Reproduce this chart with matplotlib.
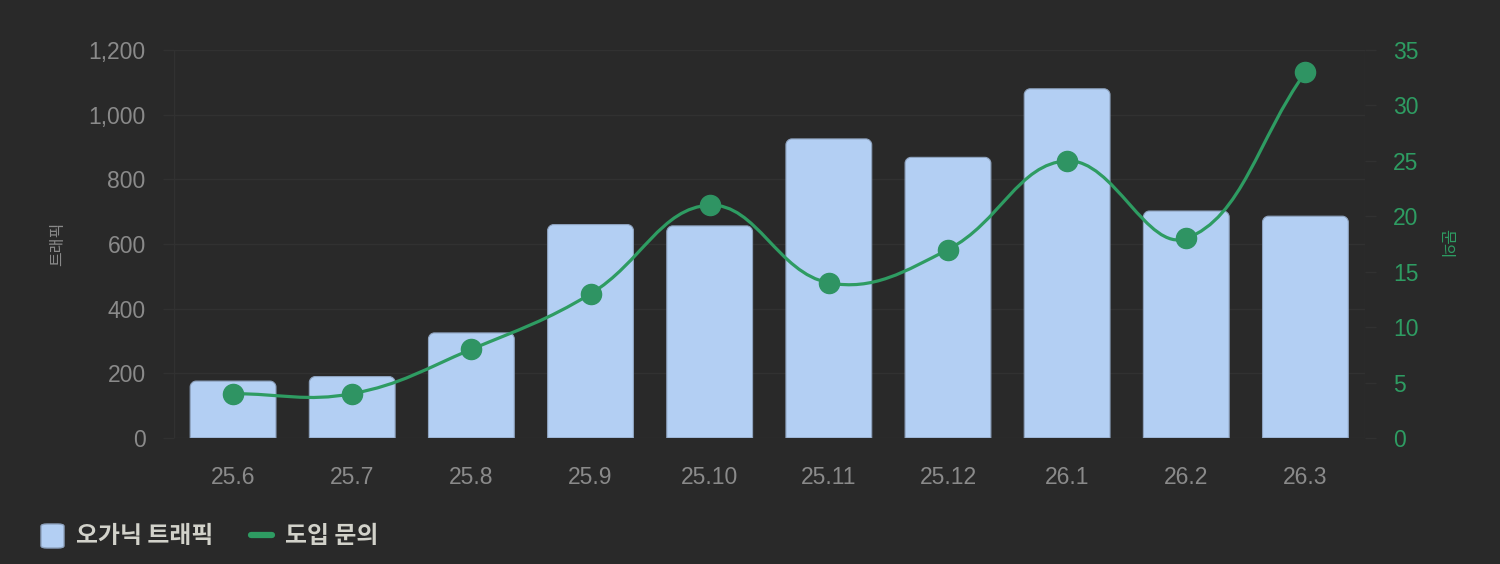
import matplotlib
matplotlib.use("Agg")
import matplotlib.pyplot as plt
from matplotlib.path import Path
from matplotlib.patches import PathPatch, FancyBboxPatch
from matplotlib.lines import Line2D
import numpy as np

months = ["25.6", "25.7", "25.8", "25.9", "25.10", "25.11", "25.12", "26.1", "26.2", "26.3"]
traffic = [176, 190, 325, 660, 656, 925, 868, 1080, 702, 686]
inquiries = [4, 4, 8, 13, 21, 14, 17, 25, 18, 33]
left_ticks = [0, 200, 400, 600, 800, 1000, 1200]
right_ticks = [0, 5, 10, 15, 20, 25, 30, 35]
bar_label = "오가닉 트래픽"
line_label = "도입 문의"
left_title = "트래픽"
right_title = "문의"

BG = "#292929"
GRID = "#313131"
BAR = "#b3cff3"
BAR_EDGE = "#8ea3bf"
GREEN = "#2e9c62"
MARK = "#2f9463"
GRAY = "#8a8a8a"
LEG_TXT = "#d2d2ca"

KR = ["Noto Sans CJK KR", "DejaVu Sans"]
NUM = ["Liberation Sans", "DejaVu Sans"]

W, H = 1500, 564
fig = plt.figure(figsize=(W / 100, H / 100), dpi=100, facecolor=BG)
x0, x1 = 173.5, 1365.0
ytop, ybot = 50.0, 438.0
ax = fig.add_axes([x0 / W, (H - ybot) / H, (x1 - x0) / W, (ybot - ytop) / H])
ax.set_facecolor(BG)
ax2 = ax.twinx()
ax2.patch.set_visible(False)

n = len(months)
xs = np.arange(n)
ax.set_xlim(-0.5, n - 0.5)
ax.set_ylim(0, 1200)
ax2.set_ylim(0, 35)

for a in (ax, ax2):
    for s in a.spines.values():
        s.set_visible(False)

# grid lines at left ticks
ax.set_yticks(left_ticks)
ax.set_yticklabels([f"{v:,}" for v in left_ticks])
ax.yaxis.grid(True, color=GRID, linewidth=1)
ax.set_axisbelow(True)
ax.tick_params(axis="y", colors=GRID, length=8, width=1, pad=12, labelcolor=GRAY, labelsize=16.5)
for t in ax.get_yticklabels():
    t.set_fontfamily(NUM)
ax2.set_yticks(right_ticks)
ax2.tick_params(axis="y", colors=GRID, length=8, width=1, pad=12, labelcolor=GREEN, labelsize=16.5)
for t in ax2.get_yticklabels():
    t.set_fontfamily(NUM)
ax.set_xticks(xs)
ax.set_xticklabels(months)
ax.tick_params(axis="x", length=0, pad=20, labelcolor=GRAY, labelsize=16.5)
for t in ax.get_xticklabels():
    t.set_fontfamily(NUM)
ax.axvline(-0.5, color=GRID, linewidth=1)
ax.axvline(n - 0.5, color=GRID, linewidth=1)

ax.set_ylabel(left_title, color=GRAY, fontsize=11.5, family=KR, labelpad=16)
ax2.set_ylabel(right_title, color=GREEN, fontsize=11.5, family=KR, rotation=270, labelpad=26)

# bars with rounded top corners
bars = ax.bar(xs, traffic, width=0.72, color=BAR)
r = 6.0
tr = ax.transData
inv = tr.inverted()
for b in bars:
    bx, by = b.get_x(), b.get_y()
    bw, bh = b.get_width(), b.get_height()
    (px0, py0) = tr.transform((bx, by))
    (px1, py1) = tr.transform((bx + bw, by + bh))
    k = 0.5523 * r
    verts = [
        (px0, py0), (px0, py1 - r),
        (px0, py1 - r + k), (px0 + r - k, py1), (px0 + r, py1),
        (px1 - r, py1),
        (px1 - r + k, py1), (px1, py1 - r + k), (px1, py1 - r),
        (px1, py0), (px0, py0),
    ]
    codes = [Path.MOVETO, Path.LINETO,
             Path.CURVE4, Path.CURVE4, Path.CURVE4,
             Path.LINETO,
             Path.CURVE4, Path.CURVE4, Path.CURVE4,
             Path.LINETO, Path.CLOSEPOLY]
    dverts = inv.transform(verts)
    ax.add_patch(PathPatch(Path(dverts, codes), facecolor=BAR, edgecolor=BAR_EDGE,
                           linewidth=0.8, zorder=2))
    b.set_visible(False)

# smooth line (Chart.js style spline, tension 0.4)
tr2 = ax2.transData
pts = tr2.transform(np.column_stack([xs, inquiries]))
tension = 0.4
cp_prev = pts.copy()
cp_next = pts.copy()
for i in range(n):
    p = pts[i - 1] if i > 0 else pts[i]
    c = pts[i]
    q = pts[i + 1] if i < n - 1 else pts[i]
    d01 = np.hypot(*(c - p))
    d12 = np.hypot(*(q - c))
    tot = d01 + d12
    s01 = d01 / tot if tot else 0
    s12 = d12 / tot if tot else 0
    cp_prev[i] = c - tension * s01 * (q - p)
    cp_next[i] = c + tension * s12 * (q - p)
# cap within chart area
ymin_px, ymax_px = tr2.transform((0, 0))[1], tr2.transform((0, 35))[1]
cp_prev[:, 1] = np.clip(cp_prev[:, 1], ymin_px, ymax_px)
cp_next[:, 1] = np.clip(cp_next[:, 1], ymin_px, ymax_px)
verts = [pts[0]]
codes = [Path.MOVETO]
for i in range(n - 1):
    verts += [cp_next[i], cp_prev[i + 1], pts[i + 1]]
    codes += [Path.CURVE4] * 3
inv2 = tr2.inverted()
ax2.add_patch(PathPatch(Path(inv2.transform(verts), codes), facecolor="none",
                        edgecolor=GREEN, linewidth=2.3, zorder=3, capstyle="round"))
ax2.plot(xs, inquiries, linestyle="none", marker="o", markersize=14.5,
         markerfacecolor=MARK, markeredgecolor=MARK, zorder=4)

# legend (bottom left)
fig.patches.append(FancyBboxPatch((41 / W, (H - 548) / H), 23 / W, 24 / H,
                                  boxstyle="round,pad=0,rounding_size=0.004",
                                  transform=fig.transFigure, facecolor=BAR,
                                  edgecolor=BAR_EDGE, linewidth=1))
fig.text(76 / W, (H - 536) / H, bar_label, color=LEG_TXT, fontsize=17.2,
         fontweight="bold", family=KR, va="center", ha="left")
fig.lines.append(Line2D([251 / W, 272 / W], [(H - 535) / H] * 2, transform=fig.transFigure,
                        color=GREEN, linewidth=4.5, solid_capstyle="round"))
fig.text(285 / W, (H - 536) / H, line_label, color=LEG_TXT, fontsize=17.2,
         fontweight="bold", family=KR, va="center", ha="left")

fig.savefig("out.png", dpi=100, facecolor=BG)
